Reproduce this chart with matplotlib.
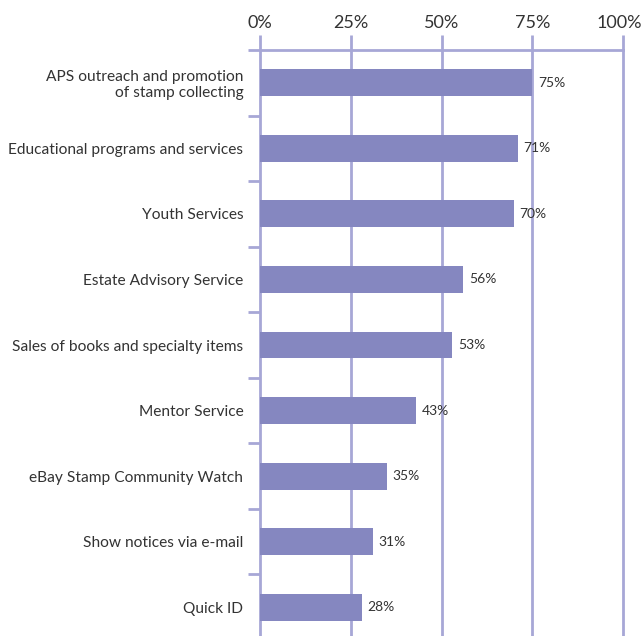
import matplotlib.pyplot as plt
import matplotlib.transforms as mtransforms
from matplotlib.ticker import FixedLocator

# survey data
services = [
    "APS outreach and promotion\nof stamp collecting",
    "Educational programs and services",
    "Youth Services",
    "Estate Advisory Service",
    "Sales of books and specialty items",
    "Mentor Service",
    "eBay Stamp Community Watch",
    "Show notices via e-mail",
    "Quick ID",
]
percent = [75, 71, 70, 56, 53, 43, 35, 31, 28]
x_ticks = [0, 25, 50, 75, 100]
x_tick_labels = ["0%", "25%", "50%", "75%", "100%"]

bar_color = "#8587c0"
line_color = "#a7a7d6"
text_color = "#333333"

plt.rcParams['font.family'] = ['Lato', 'DejaVu Sans']

fig = plt.figure(figsize=(6.44, 6.36), dpi=100)
W, H = 644, 636
ax = fig.add_axes([260 / W, -4 / H, (623 - 260) / W, (640 - 50) / H])

pos = list(range(len(services)))
ax.barh(pos, percent, height=0.41, color=bar_color, zorder=3)

for p, v in zip(pos, percent):
    ax.annotate(f"{v}%", (v, p), xytext=(4, 0), textcoords="offset points",
                va="center", ha="left", fontsize=10, color=text_color, zorder=4)

ax.set_xlim(0, 100)
ax.set_ylim(len(services) - 0.5, -0.5)

# vertical grid lines
for t in x_ticks[1:]:
    ax.axvline(t, color=line_color, lw=2, zorder=1, clip_on=False)

ax.xaxis.tick_top()
ax.set_xticks(x_ticks)
ax.set_xticklabels(x_tick_labels, fontsize=13, color=text_color)
ax.tick_params(axis="x", direction="out", length=11, width=2, color=line_color, pad=3)

# nudge the 100% label so it stays inside the figure
last = ax.get_xticklabels()[-1]
last.set_transform(last.get_transform() +
                   mtransforms.ScaledTranslation(-4 / 100, 0, fig.dpi_scale_trans))

ax.set_yticks(pos)
ax.set_yticklabels(services, fontsize=11.2, color=text_color)
ax.tick_params(axis="y", which="major", length=0, pad=12)
ax.yaxis.set_minor_locator(FixedLocator([p - 0.5 for p in pos]))
ax.tick_params(axis="y", which="minor", direction="out", length=9, width=2, color=line_color)

for side in ["right", "bottom"]:
    ax.spines[side].set_visible(False)
for side in ["top", "left"]:
    ax.spines[side].set_color(line_color)
    ax.spines[side].set_linewidth(2)

fig.savefig("out.png", dpi=100)
